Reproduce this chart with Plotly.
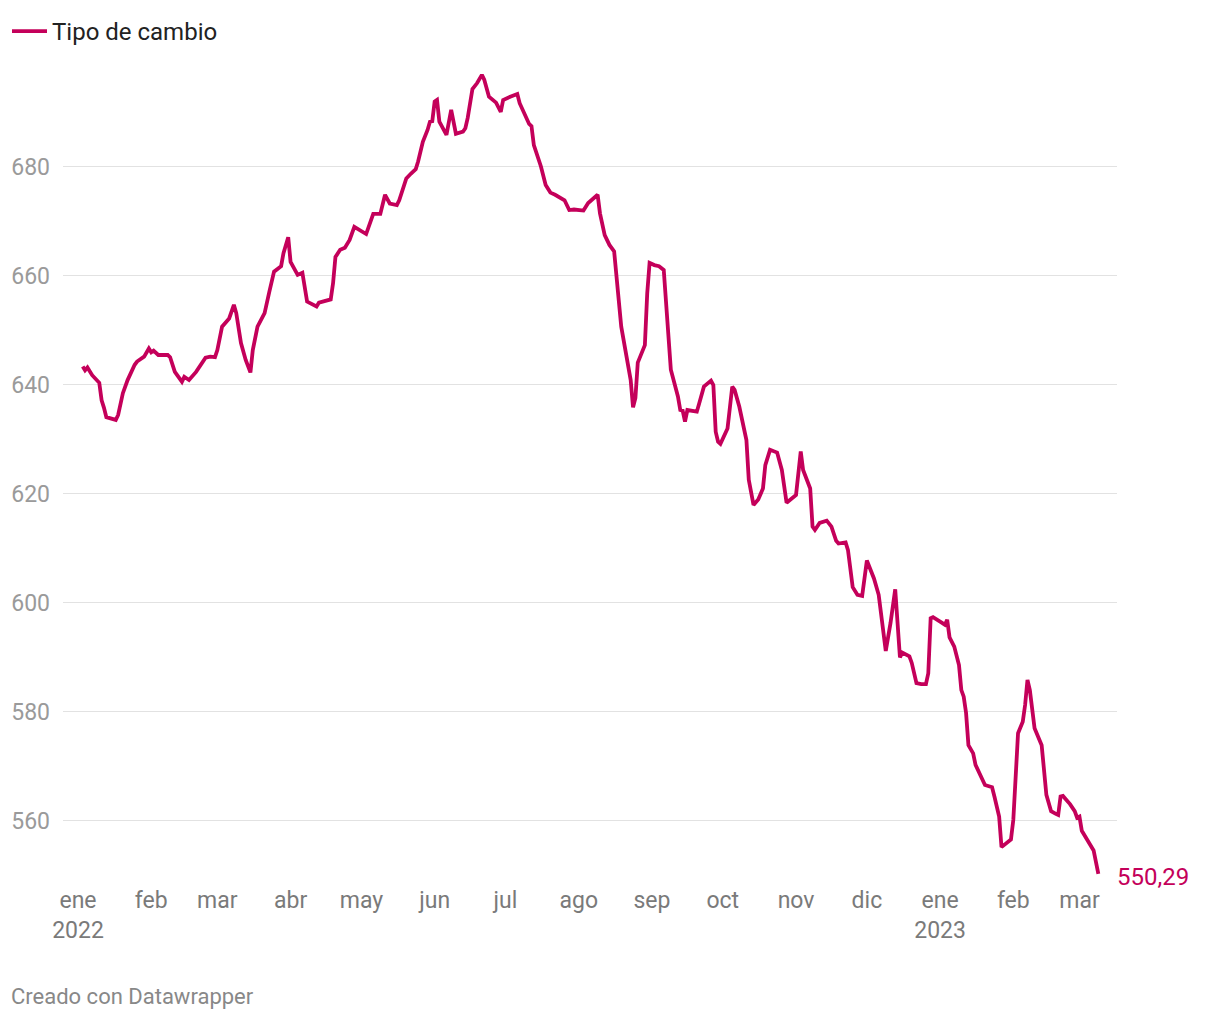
import plotly.graph_objects as go

dates = [
    "2022-01-03", "2022-01-04", "2022-01-05", "2022-01-07", "2022-01-10", "2022-01-11", "2022-01-12",
    "2022-01-13", "2022-01-17", "2022-01-18", "2022-01-20", "2022-01-22", "2022-01-25", "2022-01-26",
    "2022-01-29", "2022-01-31", "2022-02-01", "2022-02-02", "2022-02-04", "2022-02-08", "2022-02-09",
    "2022-02-11", "2022-02-14", "2022-02-15", "2022-02-17", "2022-02-20", "2022-02-24", "2022-02-26",
    "2022-02-28", "2022-03-01", "2022-03-03", "2022-03-06", "2022-03-08", "2022-03-09", "2022-03-11",
    "2022-03-13", "2022-03-15", "2022-03-16", "2022-03-18", "2022-03-21", "2022-03-23", "2022-03-25",
    "2022-03-28", "2022-03-29", "2022-03-31", "2022-04-01", "2022-04-04", "2022-04-06", "2022-04-08",
    "2022-04-12", "2022-04-13", "2022-04-18", "2022-04-19", "2022-04-20", "2022-04-22", "2022-04-24",
    "2022-04-26", "2022-04-28", "2022-05-03", "2022-05-06", "2022-05-09", "2022-05-11", "2022-05-13",
    "2022-05-16", "2022-05-17", "2022-05-20", "2022-05-22", "2022-05-24", "2022-05-25", "2022-05-27",
    "2022-05-29", "2022-05-30", "2022-05-31", "2022-06-01", "2022-06-02", "2022-06-03", "2022-06-06",
    "2022-06-08", "2022-06-10", "2022-06-13", "2022-06-14", "2022-06-15", "2022-06-17", "2022-06-19",
    "2022-06-21", "2022-06-22", "2022-06-24", "2022-06-27", "2022-06-29", "2022-06-30", "2022-07-03",
    "2022-07-06", "2022-07-07", "2022-07-09", "2022-07-11", "2022-07-12", "2022-07-13", "2022-07-16",
    "2022-07-18", "2022-07-20", "2022-07-22", "2022-07-26", "2022-07-28", "2022-07-30", "2022-08-03",
    "2022-08-05", "2022-08-07", "2022-08-09", "2022-08-10", "2022-08-12", "2022-08-14", "2022-08-16",
    "2022-08-19", "2022-08-21", "2022-08-23", "2022-08-24", "2022-08-25", "2022-08-26", "2022-08-29",
    "2022-08-30", "2022-08-31", "2022-09-02", "2022-09-04", "2022-09-06", "2022-09-07", "2022-09-09",
    "2022-09-12", "2022-09-13", "2022-09-14", "2022-09-15", "2022-09-16", "2022-09-20", "2022-09-21",
    "2022-09-23", "2022-09-26", "2022-09-27", "2022-09-28", "2022-09-29", "2022-09-30", "2022-10-03",
    "2022-10-05", "2022-10-06", "2022-10-08", "2022-10-11", "2022-10-12", "2022-10-14", "2022-10-16",
    "2022-10-18", "2022-10-19", "2022-10-21", "2022-10-24", "2022-10-26", "2022-10-28", "2022-10-30",
    "2022-11-01", "2022-11-02", "2022-11-03", "2022-11-04", "2022-11-07", "2022-11-08", "2022-11-09",
    "2022-11-11", "2022-11-14", "2022-11-16", "2022-11-18", "2022-11-19", "2022-11-22", "2022-11-23",
    "2022-11-25", "2022-11-27", "2022-11-29", "2022-12-01", "2022-12-04", "2022-12-06", "2022-12-08",
    "2022-12-09", "2022-12-11", "2022-12-13", "2022-12-15", "2022-12-16", "2022-12-19", "2022-12-20",
    "2022-12-22", "2022-12-24", "2022-12-26", "2022-12-27", "2022-12-28", "2022-12-29", "2023-01-02",
    "2023-01-03", "2023-01-04", "2023-01-05", "2023-01-07", "2023-01-09", "2023-01-10", "2023-01-11",
    "2023-01-12", "2023-01-13", "2023-01-15", "2023-01-16", "2023-01-20", "2023-01-23", "2023-01-24",
    "2023-01-26", "2023-01-27", "2023-01-29", "2023-01-31", "2023-02-01", "2023-02-03", "2023-02-05",
    "2023-02-06", "2023-02-07", "2023-02-08", "2023-02-10", "2023-02-13", "2023-02-15", "2023-02-17",
    "2023-02-19", "2023-02-20", "2023-02-21", "2023-02-22", "2023-02-25", "2023-02-27", "2023-02-28",
    "2023-03-01", "2023-03-02", "2023-03-07", "2023-03-09",
]

tipo_de_cambio = [
    643.4, 642.7, 643.2, 641.8, 640.4, 637.2, 635.8,
    634.1, 633.6, 634.5, 638.5, 640.9, 643.7, 644.3,
    645.2, 646.7, 646.0, 646.3, 645.5, 645.5, 645.1,
    642.4, 640.6, 641.5, 640.9, 642.4, 645.0, 645.2,
    645.1, 646.4, 650.7, 652.2, 654.7, 653.2, 647.7,
    644.6, 642.3, 646.4, 650.7, 653.2, 657.1, 660.8,
    661.8, 664.2, 667.1, 662.6, 660.2, 660.6, 655.3,
    654.4, 655.1, 655.7, 658.7, 663.5, 664.8, 665.2,
    666.6, 669.0, 667.7, 671.4, 671.4, 674.9, 673.3,
    673.0, 673.9, 677.9, 678.8, 679.6, 681.0, 684.6,
    686.8, 688.3, 688.4, 692.0, 692.3, 688.3, 685.9,
    690.5, 686.1, 686.5, 687.1, 689.0, 694.3, 695.4,
    696.9, 696.0, 692.9, 691.8, 690.1, 692.3, 692.9,
    693.4, 691.7, 689.9, 687.9, 687.5, 684.0, 680.1,
    676.7, 675.3, 674.9, 673.9, 672.1, 672.2, 672.0,
    673.4, 674.1, 674.9, 671.5, 667.5, 665.7, 664.5,
    650.7, 645.8, 640.9, 635.9, 637.6, 644.1, 647.3,
    656.8, 662.4, 662.0, 661.8, 661.1, 655.6, 642.8,
    637.9, 635.4, 635.3, 633.3, 635.4, 635.1, 636.6,
    639.7, 640.8, 640.0, 631.4, 629.6, 629.2, 632.0,
    639.7, 639.1, 636.0, 629.9, 622.6, 618.0, 619.0,
    621.0, 625.3, 628.1, 627.6, 624.4, 618.4, 619.0,
    619.8, 623.8, 627.8, 624.4, 621.0, 614.0, 613.4,
    614.7, 615.1, 614.0, 611.4, 610.9, 611.1, 609.7,
    602.9, 601.5, 601.3, 607.8, 604.5, 601.5, 595.0,
    591.2, 596.3, 602.5, 590.0, 590.9, 590.2, 589.0,
    585.3, 585.1, 585.1, 587.1, 597.2, 597.4, 596.3,
    596.0, 596.9, 593.7, 592.0, 588.6, 584.0, 582.8,
    579.8, 573.9, 572.4, 570.3, 566.6, 566.2, 564.5,
    560.8, 555.2, 555.9, 556.6, 560.2, 576.1, 578.2,
    581.3, 585.9, 584.0, 577.0, 573.9, 564.8, 561.8,
    561.3, 561.1, 564.5, 564.6, 563.1, 561.8, 560.6,
    560.8, 558.2, 554.6, 550.29,
]

tick_dates = [
    "2022-01-01", "2022-02-01", "2022-03-01", "2022-04-01", "2022-05-01", "2022-06-01",
    "2022-07-01", "2022-08-01", "2022-09-01", "2022-10-01", "2022-11-01", "2022-12-01",
    "2023-01-01", "2023-02-01", "2023-03-01",
]
tick_labels = [
    "ene<br>2022", "feb", "mar", "abr", "may", "jun", "jul", "ago", "sep", "oct", "nov", "dic",
    "ene<br>2023", "feb", "mar",
]
y_ticks = [560, 580, 600, 620, 640, 660, 680]

LINE = "#c4005a"
FONT = "Roboto"

fig = go.Figure()
fig.add_trace(go.Scatter(
    x=dates, y=tipo_de_cambio, mode="lines", name="Tipo de cambio",
    line=dict(color=LINE, width=3.8, shape="linear"),
    hoverinfo="skip",
))

PLOT_L, PLOT_R, PLOT_T, PLOT_B = 63, 1117, 60, 880

last_val = tipo_de_cambio[-1]
fig.add_annotation(
    x=dates[-1], y=last_val, xref="x", yref="y",
    text=f"{last_val:.2f}".replace(".", ","),
    showarrow=False, xanchor="left", yanchor="middle", xshift=17, yshift=-3,
    font=dict(family=FONT, size=24, color=LINE),
)
fig.add_annotation(
    xref="paper", yref="paper",
    x=(9 - PLOT_L) / (PLOT_R - PLOT_L),
    y=(PLOT_B - 997) / (PLOT_B - PLOT_T),
    text="Creado con Datawrapper", showarrow=False,
    xanchor="left", yanchor="middle",
    font=dict(family=FONT, size=22, color="#888888"),
)

fig.update_layout(
    width=1220, height=1020,
    margin=dict(l=PLOT_L, r=1220 - PLOT_R, t=PLOT_T, b=1020 - PLOT_B, pad=0,
                autoexpand=False),
    paper_bgcolor="white", plot_bgcolor="white",
    font=dict(family=FONT, color="#333333"),
    showlegend=True,
    legend=dict(
        orientation="h", xref="container", yref="container",
        x=7 / 1220, y=1 - 9 / 1020, xanchor="left", yanchor="top",
        font=dict(family=FONT, size=24, color="#222222"),
        bgcolor="rgba(0,0,0,0)", itemwidth=35,
    ),
    xaxis=dict(
        type="date",
        range=["2021-12-25 15:36", "2023-03-16 21:36"],
        tickmode="array", tickvals=tick_dates, ticktext=tick_labels,
        showgrid=False, zeroline=False, showline=False, ticks="",
        tickfont=dict(family=FONT, size=23, color="#7a7a7a"),
        ticklabelstandoff=4, automargin=False,
    ),
    yaxis=dict(
        range=[549.17, 699.63],
        tickmode="array", tickvals=y_ticks, ticktext=[str(v) for v in y_ticks],
        showgrid=True, gridcolor="#e2e2e2", gridwidth=1,
        zeroline=False, showline=False, ticks="",
        tickfont=dict(family=FONT, size=23, color="#9a9a9a"),
        ticklabelstandoff=12, automargin=False,
    ),
)

fig.write_html("out.html", post_script="document.body.style.margin='0';",
               config={"displayModeBar": False})
